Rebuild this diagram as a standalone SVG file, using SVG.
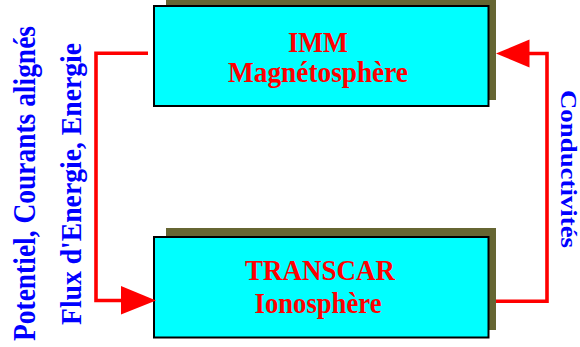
<svg xmlns="http://www.w3.org/2000/svg" width="580" height="347" viewBox="0 0 580 347">
<style>
.shadow{fill:#666633}
.box{fill:#00FFFF;stroke:#000;stroke-width:2}
.t{font-family:"Liberation Serif","Times New Roman",serif;font-weight:bold;font-size:30px}
.red{fill:#FF0000}
.blue{fill:#0000FF}
.line{fill:none;stroke:#FF0000;stroke-width:3.6}
.head{fill:#FF0000}
</style>
<rect width="580" height="347" fill="#fff"/>
<g id="imm">
<rect class="shadow" x="166" y="-2" width="330" height="102"/>
<rect class="box" x="154" y="6" width="334.5" height="100"/>
<text class="t red" x="318" y="52" text-anchor="middle" textLength="60" lengthAdjust="spacingAndGlyphs">IMM</text>
<text class="t red" x="318" y="82" text-anchor="middle" textLength="180" lengthAdjust="spacingAndGlyphs">Magnétosphère</text>
</g>
<g id="transcar">
<rect class="shadow" x="166" y="228" width="330" height="102"/>
<rect class="box" x="154" y="237" width="334.5" height="100.5"/>
<text class="t red" x="320" y="280" text-anchor="middle" textLength="150" lengthAdjust="spacingAndGlyphs">TRANSCAR</text>
<text class="t red" x="318" y="313" text-anchor="middle" textLength="127" lengthAdjust="spacingAndGlyphs">Ionosphère</text>
</g>
<g id="labels">
<text class="t blue" style="font-size:32px" transform="translate(34.5,183.5) rotate(-90)" text-anchor="middle" textLength="315" lengthAdjust="spacingAndGlyphs">Potentiel, Courants alignés</text>
<text class="t blue" transform="translate(81,184) rotate(-90)" text-anchor="middle" textLength="282" lengthAdjust="spacingAndGlyphs">Flux d'Energie, Energie</text>
<text class="t blue" style="font-size:24px" transform="translate(560.5,169) rotate(90)" text-anchor="middle" textLength="158" lengthAdjust="spacingAndGlyphs">Conductivités</text>
</g>
<g id="connectors">
<polyline class="line" points="148,53.3 96,53.3 96,300.5 123,300.5"/>
<polygon class="head" points="121,286 156,300.5 121,314.5"/>
<polyline class="line" points="496,301.3 547,301.3 547,53.5 528,53.5"/>
<polygon class="head" points="529.5,39.5 496,53.5 529.5,67.5"/>
</g>
</svg>
